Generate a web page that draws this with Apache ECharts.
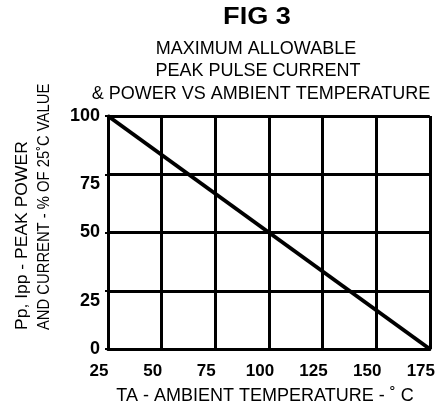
<!DOCTYPE html>
<html>
<head>
<meta charset="utf-8">
<script src="https://cdn.jsdelivr.net/npm/echarts@6/dist/echarts.min.js"></script>
<style>
html,body{margin:0;padding:0;background:#fff;}
#c{width:438px;height:405px;}
</style>
</head>
<body>
<div id="c"></div>
<script>
// Data
var temperatures = [25, 175];           // TA (°C)
var percentValues = [100, 0];           // % of 25°C value
var xTickValues = [25, 50, 75, 100, 125, 150, 175];
var yTickValues = [0, 25, 50, 75, 100];

var titleText = 'FIG 3';
var subtitleLines = ['MAXIMUM ALLOWABLE', 'PEAK PULSE CURRENT', '& POWER VS AMBIENT TEMPERATURE'];
var xAxisTitle = 'TA - AMBIENT TEMPERATURE - \u02DA C';
var yAxisTitleLines = ['Pp, Ipp - PEAK POWER', 'AND CURRENT - % OF 25\u02DAC VALUE'];

var FONT = 'Liberation Sans, Arial, Helvetica, sans-serif';

var seriesData = temperatures.map(function (t, i) { return [t, percentValues[i]]; });

var chart = echarts.init(document.getElementById('c'), null, {renderer: 'canvas'});
chart.setOption({
  animation: false,
  backgroundColor: '#fff',
  grid: {left: 108, right: 6, top: 116, bottom: 56, containLabel: false},
  xAxis: {
    type: 'value', min: 25, max: 175, interval: 25,
    axisLine: {show: true, lineStyle: {color: '#000', width: 3}},
    axisTick: {show: false},
    splitLine: {show: true, lineStyle: {color: '#000', width: 3}},
    axisLabel: {
      margin: 14, color: '#000', fontFamily: FONT, fontSize: 17, fontWeight: 'bold',
      formatter: function (v) { return xTickValues.indexOf(v) >= 0 ? '{a|' + v + '}' : ''; },
      rich: {a: {fontFamily: FONT, fontSize: 17, fontWeight: 'bold', color: '#000', padding: [0, 18, 0, 0]}}
    }
  },
  yAxis: {
    type: 'value', min: 0, max: 100, interval: 25,
    axisLine: {show: true, lineStyle: {color: '#000', width: 3}},
    axisTick: {show: true, length: 3, lineStyle: {color: '#000', width: 2}},
    splitLine: {show: true, lineStyle: {color: '#000', width: 3}},
    axisLabel: {
      margin: 8, color: '#000', fontFamily: FONT, fontSize: 18, fontWeight: 'bold',
      formatter: function (v) {
        if (yTickValues.indexOf(v) < 0) return '';
        return (v === 75 || v === 25) ? '{lo|' + v + '}' : '{n|' + v + '}';
      },
      rich: {
        n: {fontFamily: FONT, fontSize: 18, fontWeight: 'bold', color: '#000'},
        lo: {fontFamily: FONT, fontSize: 18, fontWeight: 'bold', color: '#000', padding: [20, 0, 0, 0]}
      }
    }
  },
  series: [{
    type: 'line', data: seriesData, symbol: 'none',
    lineStyle: {color: '#000', width: 4}
  }],
  graphic: [
    {type: 'text', x: 257, y: 17, scaleX: 1.13, style: {text: titleText, font: 'bold 24px ' + FONT, fill: '#000', textAlign: 'center', textVerticalAlign: 'middle'}},
    {type: 'text', x: 256, y: 49, style: {text: subtitleLines[0], font: '18px ' + FONT, fill: '#000', textAlign: 'center', textVerticalAlign: 'middle'}},
    {type: 'text', x: 258, y: 71, style: {text: subtitleLines[1], font: '18px ' + FONT, fill: '#000', textAlign: 'center', textVerticalAlign: 'middle'}},
    {type: 'text', x: 261, y: 94, style: {text: subtitleLines[2], font: '18px ' + FONT, fill: '#000', textAlign: 'center', textVerticalAlign: 'middle'}},
    {type: 'text', x: 265, y: 396, style: {text: xAxisTitle, font: '18px ' + FONT, fill: '#000', textAlign: 'center', textVerticalAlign: 'middle'}},
    {type: 'text', x: 22, y: 330, rotation: Math.PI / 2, scaleX: 1.03, style: {text: yAxisTitleLines[0], font: '17px ' + FONT, fill: '#000', textAlign: 'left', textVerticalAlign: 'middle'}},
    {type: 'text', x: 44, y: 330, rotation: Math.PI / 2, scaleX: 0.87, style: {text: yAxisTitleLines[1], font: '17px ' + FONT, fill: '#000', textAlign: 'left', textVerticalAlign: 'middle'}}
  ]
});
</script>
</body>
</html>
